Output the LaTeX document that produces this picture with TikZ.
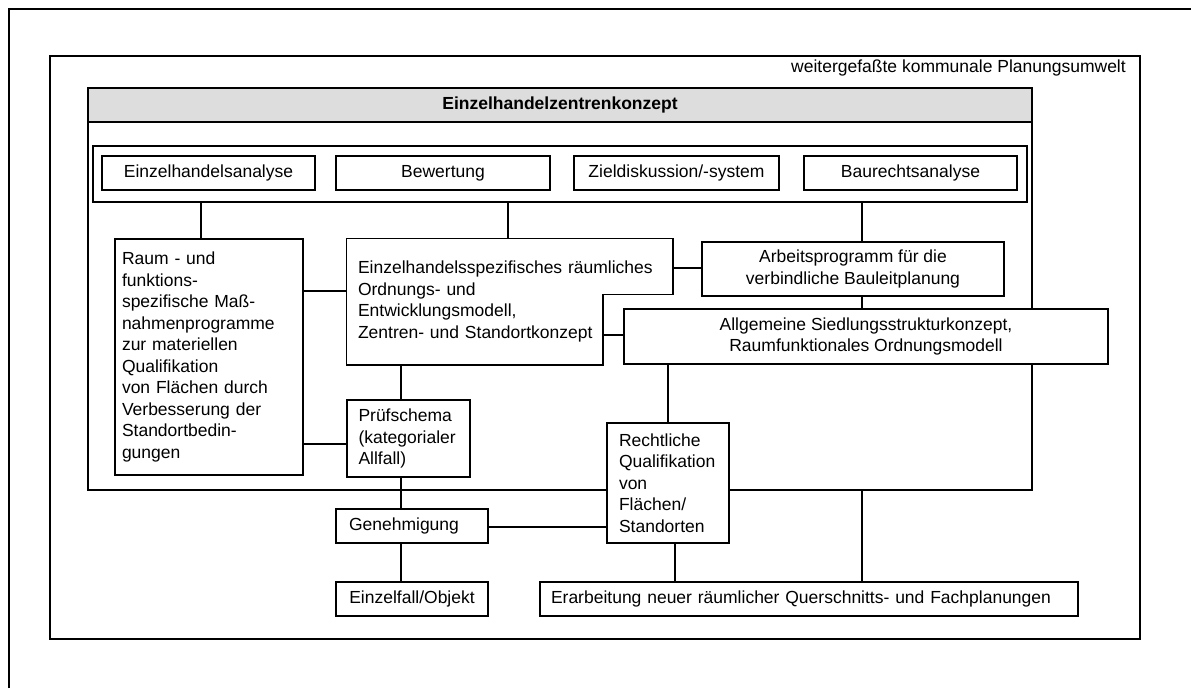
\documentclass[tikz,border=0pt]{standalone}
\usepackage{fontspec}
\setmainfont{Liberation Sans}
\newcommand\boxfont{\fontsize{17.5pt}{21.5pt}\selectfont}
\definecolor{kopfgrau}{RGB}{221,221,221}

\begin{document}
\begin{tikzpicture}[x=1pt,y=-1pt,
  box/.style={draw,line width=1.5pt,fill=white,inner sep=0pt,font=\boxfont,align=center},
  rahmen/.style={draw,line width=1.5pt,inner sep=0pt},
  verb/.style={line width=1.2pt}]
\useasboundingbox (0,0) rectangle (1191,688);
\draw[line width=2.5pt] (9,688) -- (9,9) -- (1191,9);
\node[rahmen,minimum width=1090pt,minimum height=583pt] (umw) at (595,347.5) {};
\node[font=\boxfont,inner sep=0pt,anchor=east] (umwtxt) at (1126,68) {weitergefaßte kommunale Planungsumwelt};
\node[rahmen,minimum width=944pt,minimum height=402pt] (kfr) at (560,289) {};
\node[box,line width=2.2pt,fill=kopfgrau,minimum width=944pt,minimum height=34pt,font=\boxfont\bfseries] (kopf) at (560,105) {Einzelhandelzentrenkonzept};
\node[box,minimum width=934pt,minimum height=56pt] (grp) at (560,174) {};
\node[box,minimum width=213pt,minimum height=34pt] (eha) at (208.5,173) {Einzelhandelsanalyse};
\node[box,minimum width=214pt,minimum height=34pt] (bew) at (443,173) {Bewertung};
\node[box,minimum width=205pt,minimum height=34pt] (zds) at (676.5,173) {Zieldiskussion/-system};
\node[box,minimum width=213pt,minimum height=34pt] (bra) at (910.5,173) {Baurechtsanalyse};
\node[box,align=left,text width=174pt,minimum width=188pt,minimum height=236pt] (raum) at (209,357) {Raum - und\\funktions-\\spezifische Maß-\\nahmenprogramme\\zur materiellen\\Qualifikation\\von Flächen durch\\Verbesserung der\\Standortbedin-\\gungen};
\node[box,draw=none,fill=none,align=left,text width=303pt,minimum width=325pt,minimum height=125pt] (ehs) at (509.5,301.5) {Einzelhandelsspezifisches räumliches\\Ordnungs- und\\Entwicklungsmodell,\\Zentren- und Standortkonzept};
\coordinate (ecke) at ([xshift=-70pt,yshift=-56pt]ehs.north east);
\draw[line width=1.5pt] (ehs.north west) -- (ehs.north east) |- (ecke) |- (ehs.south west) -- cycle;
\node[box,minimum width=302pt,minimum height=54pt] (ap) at (853,269) {Arbeitsprogramm für die\\verbindliche Bauleitplanung};
\node[box,minimum width=484pt,minimum height=55pt] (ags) at (866,336.5) {Allgemeine Siedlungsstrukturkonzept,\\Raumfunktionales Ordnungsmodell};
\node[box,align=left,text width=100pt,minimum width=123pt,minimum height=77pt] (pruef) at (408.5,438.5) {Prüfschema\\(kategorialer\\Allfall)};
\node[box,align=left,text width=98pt,minimum width=122pt,minimum height=120pt] (recht) at (668,483) {Rechtliche\\Qualifikation\\von\\Flächen/\\Standorten};
\node[box,align=left,text width=126pt,minimum width=152pt,minimum height=34pt] (gen) at (412,526) {Genehmigung};
\node[box,minimum width=152pt,minimum height=34pt] (ezf) at (412,599) {Einzelfall/Objekt};
\node[box,align=left,text width=516pt,minimum width=538pt,minimum height=34pt] (erb) at (809,599) {Erarbeitung neuer räumlicher Querschnitts- und Fachplanungen};
\coordinate (c1) at (201,0);
\coordinate (c2) at (508,0);
\coordinate (c3) at (862,0);
\coordinate (c4) at (401,0);
\coordinate (c5) at (668,0);
\coordinate (c6) at (675,0);
\coordinate (r1) at (0,291);
\coordinate (r2) at (0,444);
\coordinate (r3) at (0,268);
\coordinate (r4) at (0,335);
\coordinate (r5) at (0,527);
\draw[verb] (grp.south -| c1) -- (raum.north -| c1);
\draw[verb] (grp.south -| c2) -- (ehs.north -| c2);
\draw[verb] (grp.south -| c3) -- (ap.north -| c3);
\draw[verb] (ap.south -| c3) -- (ags.north -| c3);
\draw[verb] (raum.east |- r1) -- (ehs.west |- r1);
\draw[verb] (raum.east |- r2) -- (pruef.west |- r2);
\draw[verb] (ehs.east |- r3) -- (ap.west |- r3);
\draw[verb] (ecke |- r4) -- (ags.west |- r4);
\draw[verb] (ehs.south -| c4) -- (pruef.north -| c4);
\draw[verb] (pruef.south -| c4) -- (gen.north -| c4);
\draw[verb] (gen.south -| c4) -- (ezf.north -| c4);
\draw[verb] (gen.east |- r5) -- (recht.west |- r5);
\draw[verb] (ags.south -| c5) -- (recht.north -| c5);
\draw[verb] (recht.south -| c6) -- (erb.north -| c6);
\draw[verb] (kfr.south -| c3) -- (erb.north -| c3);
\end{tikzpicture}
\end{document}
